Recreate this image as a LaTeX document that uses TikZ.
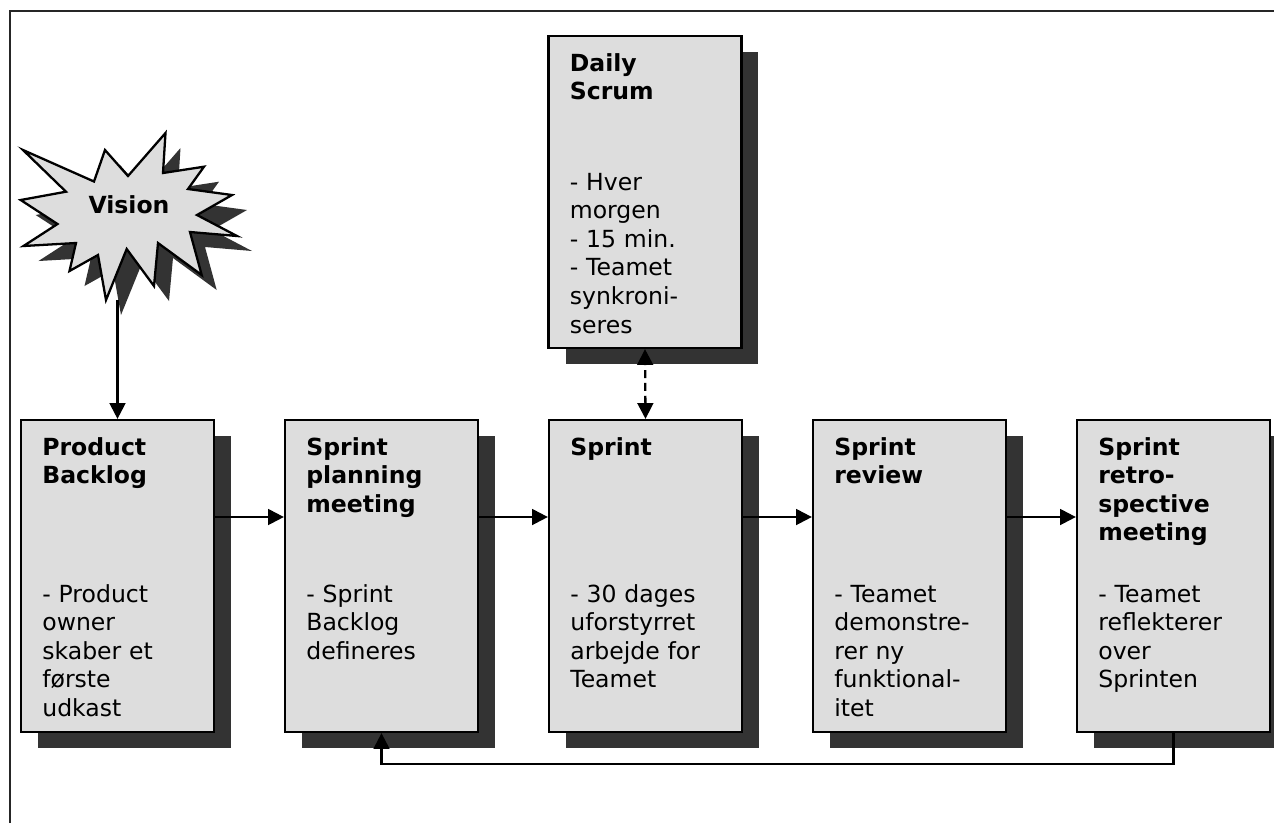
\documentclass[tikz,border=0pt]{standalone}
\usepackage{fontspec}
\setmainfont{DejaVu Sans}
\usepackage{xcolor}
\usetikzlibrary{arrows.meta,shadows,positioning}
\definecolor{boxgray}{HTML}{DDDDDD}
\definecolor{shadegray}{HTML}{333333}
\tikzset{>={Triangle[length=9pt,width=9pt]}}
\tikzset{
	stage/.style={draw=black, line width=1.3pt, fill=boxgray, minimum width=3.86cm, minimum height=6.24cm, inner sep=0pt,
		drop shadow={shadow xshift=0.34cm, shadow yshift=-0.32cm, fill=shadegray, opacity=1}},
	head/.style={anchor=base west, inner sep=0pt, text width=3.3cm, align=left, font=\fontsize{13.4pt}{16.3pt}\selectfont\bfseries},
	body/.style={anchor=base west, inner sep=0pt, text width=3.3cm, align=left, font=\fontsize{13.4pt}{16.3pt}\selectfont},
	link/.style={->, line width=1.3pt}
}

\begin{document}
\begin{tikzpicture}[x=0.02cm, y=-0.02cm]
	\useasboundingbox (0,0) rectangle (1274,823);
	% frame round the whole thing, only left and top edge are seen
	\draw[line width=1.3pt, black!85] (10,823) |- (1274,11);
	
	% Vision burst, drawn by hand
	\filldraw[line width=1.3pt, fill=boxgray, drop shadow={shadow xshift=0.3cm, shadow yshift=-0.3cm, fill=shadegray, opacity=1}]
		(23,150) -- (94,181.5) -- (105,150) -- (128,176) -- (165.5,133) -- (163,173) -- (204,166.7) -- (188,189)
		-- (232,195) -- (197,215) -- (237,236) -- (190,232) -- (201.7,275) -- (158,243) -- (154,286) -- (126.7,249)
		-- (106,300) -- (98,255) -- (69.5,271) -- (76,243) -- (23.5,246) -- (57.5,224) -- (20.7,200) -- (66,191.7) -- cycle;
	\node[font=\fontsize{13.4pt}{16.3pt}\selectfont\bfseries] (vision) at (129,205) {Vision};
	\coordinate (vis-tip) at (117.5,300); %lower end of the burst
	
	% Boxes
	\node[stage] (pb) at (117.5,576) {}; %Product Backlog
	\node[stage] (spm) at (381.5,576) {}; %Sprint planning
	\node[stage] (spr) at (645.5,576) {}; %Sprint
	\node[stage] (rev) at (909.5,576) {}; %Sprint review
	\node[stage] (ret) at (1173.5,576) {}; %Sprint retrospective
	\node[stage] (daily) at (645,192) {}; %Daily Scrum
	
	% Texts in the boxes
	\node[head] (pb-h) at (42,455) {Product\\Backlog};
	\node[body] (pb-b) at (42,602) {- Product\\owner\\skaber et\\første\\udkast};
	\node[head] (spm-h) at (306,455) {Sprint\\planning\\meeting};
	\node[body] (spm-b) at (306,602) {- Sprint\\Backlog\\defineres};
	\node[head] (spr-h) at (570,455) {Sprint};
	\node[body] (spr-b) at (570,602) {- 30 dages\\uforstyrret\\arbejde for\\Teamet};
	\node[head] (rev-h) at (834,455) {Sprint\\review};
	\node[body] (rev-b) at (834,602) {- Teamet\\demonstre-\\rer ny\\funktional-\\itet};
	\node[head] (ret-h) at (1098,455) {Sprint\\retro-\\spective\\meeting};
	\node[body] (ret-b) at (1098,602) {- Teamet\\reflekterer\\over\\Sprinten};
	\node[head] (daily-h) at (569.5,71) {Daily\\Scrum};
	\node[body] (daily-b) at (569.5,190) {- Hver\\morgen\\- 15 min.\\- Teamet\\synkroni-\\seres};
	
	% Arrows
	\coordinate (row) at (0,517); %height of the flow arrows
	\draw[link] (vis-tip) -- (pb.north);
	\draw[link] (pb.east |- row) -- (spm.west |- row);
	\draw[link] (spm.east |- row) -- (spr.west |- row);
	\draw[link] (spr.east |- row) -- (rev.west |- row);
	\draw[link] (rev.east |- row) -- (ret.west |- row);
	\draw[link, <->, dash pattern=on 4.5pt off 2.8pt] (spr.north) -- (daily.south);
	\draw[link] (ret.south) -- ++(0,31) -| (spm.south); %back to planning
\end{tikzpicture}
\end{document}
